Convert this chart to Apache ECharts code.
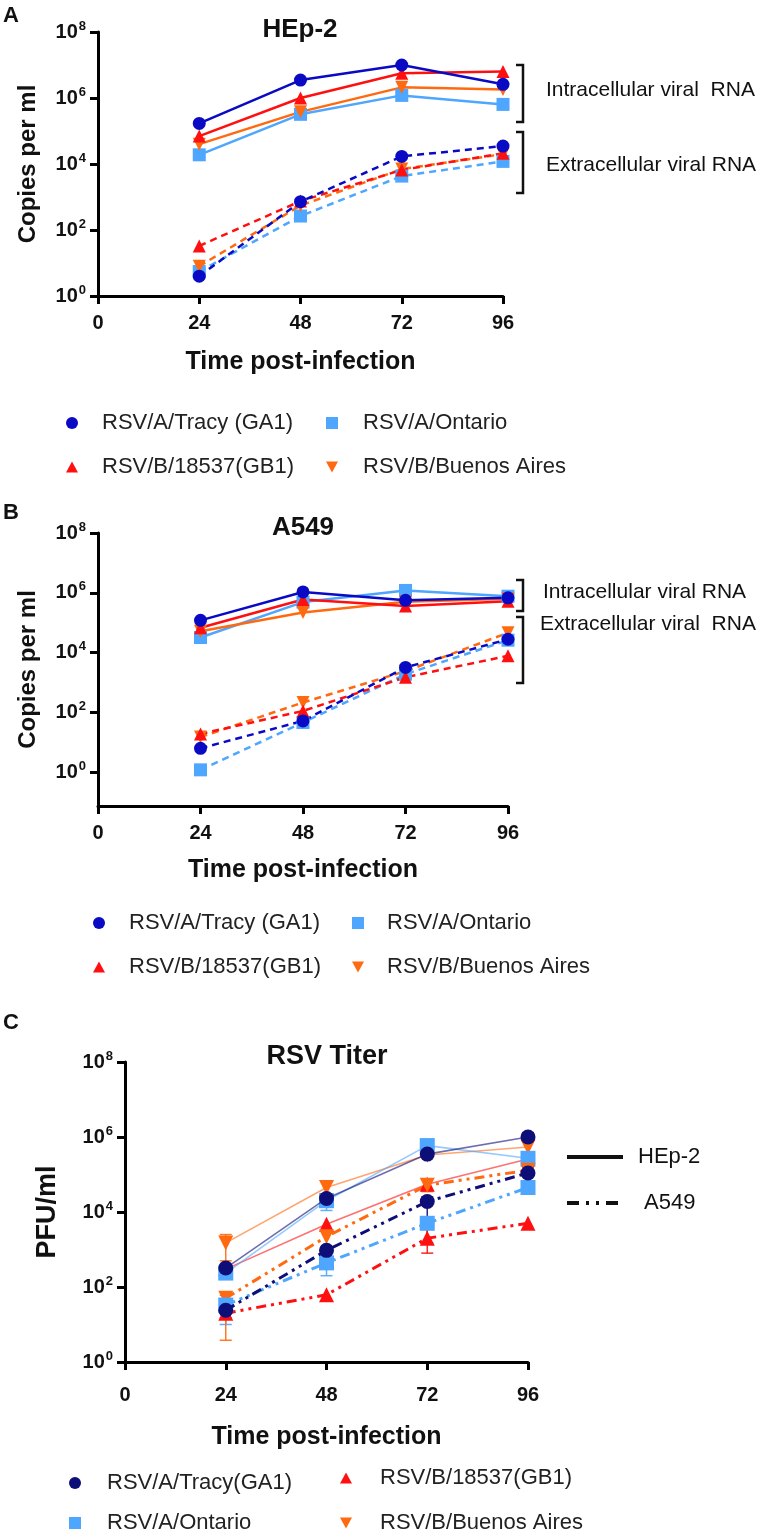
<!DOCTYPE html>
<html><head><meta charset="utf-8">
<script src="https://cdn.jsdelivr.net/npm/echarts@6/dist/echarts.min.js"></script>
<style>html,body{margin:0;padding:0;background:#fff}#c{width:766px;height:1536px}</style>
</head><body><div id="c"></div>
<script>
// ---------- data ----------
const hours = [24, 48, 72, 96];
const xTicks = [0, 24, 48, 72, 96];
const yTickExponents = [0, 2, 4, 6, 8];
const strainsAB = ['RSV/A/Tracy (GA1)', 'RSV/A/Ontario', 'RSV/B/18537(GB1)', 'RSV/B/Buenos Aires'];
const strainsC = ['RSV/A/Tracy(GA1)', 'RSV/A/Ontario', 'RSV/B/18537(GB1)', 'RSV/B/Buenos Aires'];

// Panel A: HEp-2, copies per ml
const hep2IntraTracy   = [1.7e5, 3.5e6, 1.0e7, 2.6e6];
const hep2IntraOntario = [1.9e4, 3.2e5, 1.2e6, 6.4e5];
const hep2IntraGB1     = [7.0e4, 1.0e6, 5.6e6, 6.3e6];
const hep2IntraBA      = [4.0e4, 3.8e5, 2.1e6, 1.8e6];
const hep2ExtraTracy   = [4, 720, 1.7e4, 3.5e4];
const hep2ExtraOntario = [5.5, 265, 4.3e3, 1.2e4];
const hep2ExtraGB1     = [33, 750, 6.6e3, 2.1e4];
const hep2ExtraBA      = [8, 550, 7.0e3, 2.0e4];

// Panel B: A549, copies per ml
const a549IntraTracy   = [1.2e5, 1.07e6, 5.6e5, 6.8e5];
const a549IntraOntario = [3.2e4, 4.9e5, 1.2e6, 7.7e5];
const a549IntraGB1     = [6.8e4, 6.0e5, 3.6e5, 5.2e5];
const a549IntraBA      = [5.2e4, 2.2e5, 5.0e5, 6.3e5];
const a549ExtraTracy   = [6.3, 52, 3.2e3, 2.8e4];
const a549ExtraOntario = [1.2, 46, 1.9e3, 2.6e4];
const a549ExtraGB1     = [19, 112, 1.5e3, 7.8e3];
const a549ExtraBA      = [15, 215, 2.4e3, 4.6e4];

// Panel C: RSV titer, PFU/ml
const titerHep2Tracy   = [320, 2.3e4, 3.5e5, 1.0e6];
const titerHep2Ontario = [235, 2.0e4, 5.9e5, 2.7e5];
const titerHep2GB1     = [300, 4.7e3, 5.5e4, 2.6e5];
const titerHep2BA      = [1.5e3, 4.5e4, 3.3e5, 5.4e5];
const titerA549Tracy   = [24, 950, 1.9e4, 1.1e5];
const titerA549Ontario = [33, 440, 5.0e3, 4.5e4];
const titerA549GB1     = [20, 62, 2.0e3, 5.0e3];
const titerA549BA      = [50, 2.2e3, 5.2e4, 1.3e5];
// error bars [low, high] per time point (null = none visible)
const errHep2Tracy   = [null, [1.4e4, 3.0e4], null, [8.0e5, 1.3e6]];
const errHep2Ontario = [null, [1.1e4, 2.6e4], null, null];
const errHep2BA      = [[500, 2.5e3], null, null, null];
const errA549Tracy   = [[15, 35], null, [1.5e3, 2.5e4], [6.0e4, 1.6e5]];
const errA549Ontario = [[10, 45], [200, 600], null, [3.0e4, 6.0e4]];
const errA549GB1     = [null, null, [800, 4.0e3], null];
const errA549BA      = [[3.8, 60], null, [3.5e4, 7.6e4], null];

// ---------- styling ----------
const FF = 'Liberation Sans, Arial, sans-serif';
const cTracy = '#0a0ac4', cOnt = '#4ea6ff', cGB1 = '#ff1010', cBA = '#ff6a10';
const cTracyC = '#0e0e78';
const invTri = 'path://M0,0L10,0L5,9Z';
const symbols = ['circle', 'rect', 'triangle', invTri];
const legendIcons = ['circle', 'path://M0,0L10,0L10,10L0,10Z', 'path://M5,0L10,9L0,9Z', invTri];

function toPts(vals) { return hours.map((h, i) => [h, Math.log10(vals[i])]); }

function lineSeries(name, vals, gi, color, symbol, dashed, opts) {
  opts = opts || {};
  return {
    type: 'line', name: name, xAxisIndex: gi, yAxisIndex: gi,
    data: toPts(vals), symbol: symbol, symbolSize: opts.size || 13,
    clip: false, z: opts.z || 3,
    itemStyle: { color: color },
    lineStyle: { color: opts.lineColor || color, width: opts.width || 2.5, type: dashed, opacity: opts.lineOpacity == null ? 1 : opts.lineOpacity },
    emphasis: { disabled: true }, animation: false
  };
}

function errSeries(gi, errs, color, lw) {
  const data = [];
  errs.forEach((e, i) => { if (e) data.push([hours[i], Math.log10(e[0]), Math.log10(e[1])]); });
  return {
    type: 'custom', xAxisIndex: gi, yAxisIndex: gi, data: data, z: 2, animation: false,
    encode: { x: 0, y: [1, 2] },
    renderItem: function (params, api) {
      const x = api.value(0);
      const lo = api.coord([x, api.value(1)]);
      const hi = api.coord([x, api.value(2)]);
      const w = 6;
      const st = { stroke: color, lineWidth: lw, opacity: 0.9 };
      return { type: 'group', children: [
        { type: 'line', shape: { x1: lo[0], y1: lo[1], x2: hi[0], y2: hi[1] }, style: st },
        { type: 'line', shape: { x1: lo[0] - w, y1: lo[1], x2: lo[0] + w, y2: lo[1] }, style: st },
        { type: 'line', shape: { x1: hi[0] - w, y1: hi[1], x2: hi[0] + w, y2: hi[1] }, style: st }
      ]};
    }
  };
}

function xAxis(gi, margin, nameGap) {
  return {
    type: 'value', gridIndex: gi, min: xTicks[0], max: xTicks[xTicks.length - 1], interval: 24,
    name: 'Time post-infection', nameLocation: 'middle', nameGap: nameGap,
    nameTextStyle: { fontFamily: FF, fontWeight: 'bold', fontSize: 25, color: '#111' },
    axisLine: { onZero: false, lineStyle: { color: '#000', width: 3 } },
    axisTick: { length: 8, lineStyle: { color: '#000', width: 3 } },
    axisLabel: { margin: margin, fontFamily: FF, fontWeight: 'bold', fontSize: 20, color: '#111' },
    splitLine: { show: false }
  };
}

function yAxis(gi, min, name, nameGap, nameSize) {
  return {
    type: 'value', gridIndex: gi, min: min, max: 8,
    name: name, nameLocation: 'middle', nameGap: nameGap,
    nameTextStyle: { fontFamily: FF, fontWeight: 'bold', fontSize: nameSize, color: '#111' },
    axisLine: { onZero: false, lineStyle: { color: '#000', width: 3 } },
    axisTick: { length: 8, lineStyle: { color: '#000', width: 3 }, customValues: yTickExponents },
    axisLabel: {
      margin: 12, customValues: yTickExponents,
      formatter: v => '{b|10}{s|' + Math.round(v) + '}',
      rich: {
        b: { fontFamily: FF, fontWeight: 'bold', fontSize: 20, color: '#111' },
        s: { fontFamily: FF, fontWeight: 'bold', fontSize: 13, color: '#111', padding: [0, 0, 12, 1] }
      }
    },
    splitLine: { show: false }
  };
}

function legend(left, top, gap, pad, names, icons) {
  return {
    orient: 'vertical', left: left, top: top, itemGap: gap, padding: 0, height: 120,
    itemWidth: 12, itemHeight: 12,
    selectedMode: false,
    textStyle: { fontFamily: FF, fontSize: 22, color: '#222', lineHeight: 24, padding: [0, 0, 0, pad] },
    data: names.map((n, i) => ({ name: n, icon: icons[i] }))
  };
}

function txt(x, y, text, size, bold, align) {
  return { type: 'text', x: x, y: y, silent: true, style: {
    text: text, font: (bold ? 'bold ' : '') + size + 'px ' + FF, fill: '#111',
    align: align || 'left', verticalAlign: 'middle' } };
}
function bracket(x, y1, y2) {
  return { type: 'polyline', silent: true, shape: { points: [[x - 7, y1], [x, y1], [x, y2], [x - 7, y2]] },
    style: { stroke: '#111', lineWidth: 2.5, fill: null } };
}

const dash = [7, 5];
const dashDot = [10, 5, 3, 5, 3, 5];

const series = [
  // Panel A
  lineSeries(strainsAB[1], hep2IntraOntario, 0, cOnt, symbols[1], 'solid'),
  lineSeries(strainsAB[3], hep2IntraBA, 0, cBA, symbols[3], 'solid'),
  lineSeries(strainsAB[2], hep2IntraGB1, 0, cGB1, symbols[2], 'solid'),
  lineSeries(strainsAB[0], hep2IntraTracy, 0, cTracy, symbols[0], 'solid'),
  lineSeries(strainsAB[1], hep2ExtraOntario, 0, cOnt, symbols[1], dash),
  lineSeries(strainsAB[3], hep2ExtraBA, 0, cBA, symbols[3], dash),
  lineSeries(strainsAB[2], hep2ExtraGB1, 0, cGB1, symbols[2], dash),
  lineSeries(strainsAB[0], hep2ExtraTracy, 0, cTracy, symbols[0], dash),
  // Panel B
  lineSeries(strainsAB[1], a549IntraOntario, 1, cOnt, symbols[1], 'solid'),
  lineSeries(strainsAB[3], a549IntraBA, 1, cBA, symbols[3], 'solid'),
  lineSeries(strainsAB[2], a549IntraGB1, 1, cGB1, symbols[2], 'solid'),
  lineSeries(strainsAB[0], a549IntraTracy, 1, cTracy, symbols[0], 'solid'),
  lineSeries(strainsAB[1], a549ExtraOntario, 1, cOnt, symbols[1], dash),
  lineSeries(strainsAB[3], a549ExtraBA, 1, cBA, symbols[3], dash),
  lineSeries(strainsAB[2], a549ExtraGB1, 1, cGB1, symbols[2], dash),
  lineSeries(strainsAB[0], a549ExtraTracy, 1, cTracy, symbols[0], dash),
  // Panel C error bars
  errSeries(2, errHep2Tracy, cTracyC, 1.5),
  errSeries(2, errHep2Ontario, cOnt, 1.5),
  errSeries(2, errHep2BA, cBA, 1.5),
  errSeries(2, errA549Tracy, cTracyC, 1.5),
  errSeries(2, errA549Ontario, cOnt, 1.5),
  errSeries(2, errA549GB1, cGB1, 1.5),
  errSeries(2, errA549BA, cBA, 1.5),
  // Panel C HEp-2 (solid, thin)
  lineSeries(strainsC[2], titerHep2GB1, 2, cGB1, symbols[2], 'solid', { size: 15, width: 1.6, lineOpacity: 0.6 }),
  lineSeries(strainsC[3], titerHep2BA, 2, cBA, symbols[3], 'solid', { size: 15, width: 1.6, lineOpacity: 0.6 }),
  lineSeries(strainsC[1], titerHep2Ontario, 2, cOnt, symbols[1], 'solid', { size: 15, width: 1.6, lineOpacity: 0.6 }),
  lineSeries(strainsC[0], titerHep2Tracy, 2, cTracyC, symbols[0], 'solid', { size: 15, width: 1.6, lineOpacity: 0.6, z: 4 }),
  // Panel C A549 (dash-dot-dot, thick)
  lineSeries(strainsC[2], titerA549GB1, 2, cGB1, symbols[2], dashDot, { size: 15, width: 3 }),
  lineSeries(strainsC[3], titerA549BA, 2, cBA, symbols[3], dashDot, { size: 15, width: 3 }),
  lineSeries(strainsC[1], titerA549Ontario, 2, cOnt, symbols[1], dashDot, { size: 15, width: 3 }),
  lineSeries(strainsC[0], titerA549Tracy, 2, cTracyC, symbols[0], dashDot, { size: 15, width: 3, z: 4 })
];

const option = {
  backgroundColor: '#fff',
  animation: false,
  grid: [
    { left: 98, top: 32, width: 405, height: 264 },
    { left: 98, top: 533, width: 410, height: 273 },
    { left: 125, top: 1062, width: 403, height: 300 }
  ],
  xAxis: [xAxis(0, 17, 54), xAxis(1, 17, 52), xAxis(2, 23, 63)],
  yAxis: [yAxis(0, 0, 'Copies per ml', 58, 24), yAxis(1, -1.13, 'Copies per ml', 58, 24), yAxis(2, 0, 'PFU/ml', 64, 27)],
  legend: [
    legend(66, 411, 20, 19, [strainsAB[0], strainsAB[2]], [legendIcons[0], legendIcons[2]]),
    legend(326, 411, 20, 20, [strainsAB[1], strainsAB[3]], [legendIcons[1], legendIcons[3]]),
    legend(93, 911, 20, 19, [strainsAB[0], strainsAB[2]], [legendIcons[0], legendIcons[2]]),
    legend(352, 911, 20, 18, [strainsAB[1], strainsAB[3]], [legendIcons[1], legendIcons[3]]),
    legend(69, 1471, 16, 21, [strainsC[0], strainsC[1]], [legendIcons[0], legendIcons[1]]),
    legend(340, 1466, 21, 23, [strainsC[2], strainsC[3]], [legendIcons[2], legendIcons[3]])
  ],
  graphic: [
    txt(3, 16, 'A', 22, true), txt(3, 513, 'B', 22, true), txt(3, 1023, 'C', 22, true),
    txt(300, 30, 'HEp-2', 26, true, 'center'),
    txt(303, 528, 'A549', 26, true, 'center'),
    txt(327, 1057, 'RSV Titer', 27, true, 'center'),
    bracket(523, 65, 122), bracket(523, 132, 193),
    txt(546, 90, 'Intracellular viral  RNA', 21, false),
    txt(546, 165, 'Extracellular viral RNA', 21, false),
    bracket(523, 580, 611), bracket(523, 617, 683),
    txt(543, 592, 'Intracellular viral RNA', 21, false),
    txt(540, 624, 'Extracellular viral  RNA', 21, false),
    { type: 'line', silent: true, shape: { x1: 567, y1: 1157, x2: 623, y2: 1157 }, style: { stroke: '#111', lineWidth: 4 } },
    { type: 'line', silent: true, shape: { x1: 567, y1: 1203, x2: 623, y2: 1203 }, style: { stroke: '#111', lineWidth: 4, lineDash: [12, 7, 3, 7, 3, 7] } },
    txt(638, 1157, 'HEp-2', 22, false),
    txt(644, 1203, 'A549', 22, false)
  ],
  series: series
};

const chart = echarts.init(document.getElementById('c'), null, { renderer: 'canvas' });
chart.setOption(option);
</script>
</body></html>
